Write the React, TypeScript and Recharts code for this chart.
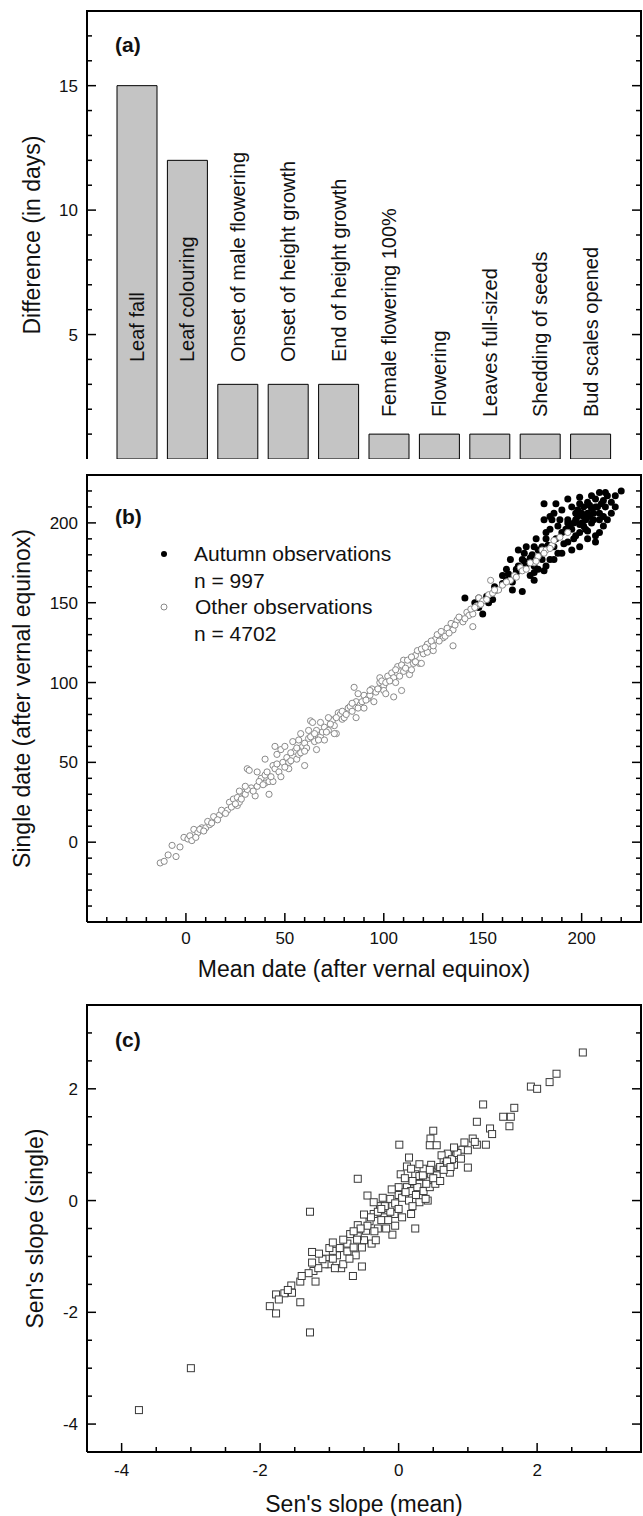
import {
  BarChart, Bar, ScatterChart, Scatter, XAxis, YAxis, LabelList, Legend,
} from 'recharts'

const FONT = '"Liberation Sans", Arial, Helvetica, sans-serif'
const INK = '#111'
const W = 643
const PLOT_L = 87
const PLOT_R = 641
const PLOT_TOP = 11

// (a) difference per phase
const phases = [
  'Leaf fall', 'Leaf colouring', 'Onset of male flowering', 'Onset of height growth',
  'End of height growth', 'Female flowering 100%', 'Flowering', 'Leaves full-sized',
  'Shedding of seeds', 'Bud scales opened',
]
const diffDays = [15, 12, 3, 3, 3, 1, 1, 1, 1, 1]
const diffTicks = [1, 2, 3, 4, 5, 6, 7, 8, 9, 10, 11, 12, 13, 14, 15, 16, 17]

// (b) single date vs mean date, [mean, single]
const dateTicks = [-40, -30, -20, -10, 0, 10, 20, 30, 40, 50, 60, 70, 80, 90, 100, 110, 120, 130, 140, 150, 160, 170, 180, 190, 200, 210, 220]
const autumnObs = [
  [220, 220], [209, 219], [205, 217], [181, 212], [187, 212], [181, 202], [185, 202], [189, 202], [193, 202],
  [184, 196], [177, 190], [182, 190], [180, 185], [174, 178], [172, 174], [167, 171], [165, 166], [162, 164],
  [170, 157], [165, 158], [176, 164], [176, 169], [141, 153], [150, 143], [153, 150], [148, 153], [181, 170],
  [213, 202], [211, 198], [207, 188], [209, 194], [203, 195], [199, 199], [197, 206], [201, 210], [205, 209],
  [209, 206], [215, 213], [213, 217], [197, 192], [193, 188], [188, 181], [184, 177], [180, 177], [176, 173],
  [186, 185], [190, 194], [195, 196], [199, 194], [201, 204], [195, 210], [190, 208], [186, 206], [193, 215],
  [199, 216], [203, 213], [207, 215], [182, 194], [178, 183], [171, 181], [170, 177], [168, 173], [160, 167],
  [157, 158], [155, 152], [152, 154], [165, 163], [174, 167], [178, 171], [182, 173], [186, 177], [190, 181],
  [195, 183], [199, 185], [203, 190], [207, 192], [211, 204], [215, 206], [217, 210], [184, 204], [188, 198],
  [193, 200], [197, 202], [201, 198], [205, 200], [209, 202], [176, 185], [172, 185], [168, 183], [164, 177],
  [162, 171], [196, 200], [198, 204], [200, 206], [202, 202], [204, 204], [206, 206], [200, 200], [194, 198],
  [192, 196], [198, 208], [204, 211], [210, 212], [212, 210], [208, 210], [206, 202], [202, 196], [196, 190],
  [191, 187], [187, 190], [183, 186], [179, 180], [175, 180], [171, 176], [167, 169], [163, 168], [160, 162],
  [156, 160], [148, 147], [146, 150], [199, 212], [203, 206], [207, 210], [211, 214], [212, 219], [217, 217],
]
const otherObs = [
  [-13, -13], [-11, -12], [-9, -8], [-7, -2], [-5, -9], [-3, -3], [-1, 3], [1, 2], [2, 4], [4, 8], [6, 6],
  [8, 9], [10, 9], [12, 11], [15, 15], [17, 17], [19, 19], [21, 20], [22, 25], [24, 27], [26, 23], [26, 28],
  [27, 25], [29, 31], [30, 30], [31, 46], [32, 45], [33, 34], [35, 29], [36, 35], [38, 40], [40, 37], [40, 42],
  [42, 30], [42, 38], [44, 38], [44, 48], [45, 46], [45, 60], [46, 55], [47, 44], [48, 41], [48, 58], [49, 50],
  [50, 60], [51, 53], [52, 46], [52, 50], [53, 51], [54, 63], [55, 57], [56, 52], [57, 55], [58, 68], [59, 60],
  [60, 48], [60, 62], [61, 59], [62, 65], [62, 70], [63, 76], [64, 65], [64, 75], [65, 63], [66, 58], [66, 70],
  [68, 66], [69, 69], [70, 64], [70, 72], [72, 70], [73, 77], [74, 76], [75, 73], [76, 68], [77, 81], [78, 80],
  [79, 77], [80, 78], [82, 84], [83, 85], [84, 82], [85, 97], [86, 78], [86, 88], [88, 86], [89, 88], [90, 92],
  [92, 90], [93, 92], [94, 96], [95, 88], [96, 94], [98, 100], [98, 103], [100, 98], [100, 95], [102, 104],
  [104, 106], [105, 91], [105, 103], [106, 100], [107, 110], [108, 104], [109, 95], [110, 107], [110, 114],
  [112, 114], [113, 105], [114, 108], [115, 112], [116, 117], [117, 120], [118, 112], [120, 118], [122, 119],
  [122, 124], [125, 120], [125, 123], [126, 127], [127, 130], [130, 128], [131, 129], [132, 134], [134, 137],
  [135, 123], [135, 133], [137, 139], [139, 140], [140, 138], [142, 144], [143, 142], [145, 135], [145, 143],
  [147, 148], [148, 153], [150, 151], [153, 155], [154, 164], [155, 156], [158, 158], [160, 161], [164, 164],
  [166, 167], [169, 172], [170, 170], [172, 171], [176, 175], [178, 179], [180, 183], [182, 183], [185, 186],
  [186, 189], [189, 191], [193, 194],
  [3, 1], [5, 3], [7, 8], [9, 7], [11, 13], [13, 12], [14, 16], [16, 14], [18, 20], [20, 18], [23, 22], [25, 24],
  [28, 27], [31, 33], [34, 32], [37, 38], [39, 36], [41, 44], [43, 41], [46, 49], [50, 47], [53, 56], [56, 59],
  [58, 56], [60, 57], [63, 66], [65, 68], [67, 64], [71, 69], [73, 74], [76, 78], [79, 82], [81, 80], [84, 87],
  [87, 84], [91, 89], [93, 95], [97, 96], [99, 101], [101, 100], [103, 101], [106, 108], [109, 111], [111, 109],
  [114, 116], [116, 113], [119, 121], [121, 122], [124, 126], [128, 126], [129, 132], [133, 131], [136, 136],
  [138, 141], [141, 140], [144, 146], [146, 147], [149, 149], [152, 152], [156, 158], [162, 163], [167, 166],
  [174, 175], [177, 176], [181, 181], [184, 184], [40, 52], [36, 44], [57, 64], [68, 75], [72, 78], [87, 93],
  [30, 35], [27, 32], [75, 68], [90, 84], [101, 93], [119, 112],
]

// (c) Sen's slope, [mean, single]
const slopeTicks = [-4, -3.5, -3, -2.5, -2, -1.5, -1, -0.5, 0, 0.5, 1, 1.5, 2, 2.5, 3]
const senSlopes = [
  [-3.75, -3.75], [-3.0, -3.0], [-1.28, -2.36], [-1.28, -0.2], [-0.59, 0.39], [0.01, 1.0], [2.66, 2.65],
  [2.28, 2.27], [2.18, 2.12], [1.91, 2.04], [2.0, 2.0], [1.22, 1.72], [1.67, 1.66], [1.51, 1.5], [1.62, 1.5],
  [1.6, 1.33], [1.13, 1.41], [1.32, 1.29], [1.35, 1.19], [1.26, 1.0], [1.13, 1.0], [1.0, 0.59], [0.5, 1.25],
  [0.46, 1.11], [0.45, 0.99], [0.55, 0.99], [0.24, -0.5], [-0.09, -0.61], [-0.53, -1.18], [-0.66, -1.35],
  [-0.83, -1.21], [-1.25, -0.92], [-1.2, -1.45], [-1.42, -1.82], [-1.42, -1.45], [-1.55, -1.52], [-1.54, -1.65],
  [-1.65, -1.66], [-1.77, -1.68], [-1.77, -2.02], [-1.86, -1.89], [-1.73, -1.77], [-1.23, -1.26], [-1.05, -1.04],
  [-1.0, -1.14], [-0.89, -0.98], [-0.74, -0.91], [-0.74, -0.77], [-0.8, -1.14], [-0.65, -0.84], [-0.59, -0.44],
  [-0.5, -0.71], [-0.47, -0.54], [-0.42, -0.37], [-0.45, 0.09], [-0.36, -0.24], [-0.3, -0.5], [-0.23, 0.05],
  [-0.21, -0.3], [-0.15, -0.13], [-0.09, -0.1], [0.0, 0.1], [0.0, 0.24], [0.09, 0.07], [0.03, 0.47], [0.12, 0.61],
  [0.15, 0.77], [0.21, 0.2], [0.24, 0.47], [0.3, 0.3], [0.36, 0.57], [0.42, 0.0], [0.42, 0.37], [0.47, 0.64],
  [0.53, 0.5], [0.59, 0.57], [0.65, 0.71], [0.71, 0.84], [0.74, 0.5], [0.8, 0.64], [0.83, 0.81], [0.92, 0.91],
  [0.95, 1.04], [1.07, 1.11], [0.3, -0.03], [0.18, -0.24], [-0.06, -0.24], [-0.12, 0.03], [-0.27, -0.1],
  [-0.36, -0.03], [-0.18, -0.5], [-0.39, -0.77], [-0.33, -0.71], [-0.59, -0.64], [-0.53, -0.84], [-0.62, -0.98],
  [-0.71, -1.04], [-0.95, -1.04], [-1.07, -1.14], [-0.92, -1.21], [-1.16, -1.21], [-1.25, -1.11], [0.12, 0.24],
  [0.18, 0.17], [0.27, 0.24], [0.36, 0.17], [0.45, 0.24], [0.53, 0.3], [0.3, 0.44], [0.18, 0.57], [0.09, 0.4],
  [0.77, 0.74], [0.68, 0.64], [0.47, 0.47], [0.39, 0.03], [0.62, 0.81], [-0.3, -0.2], [-0.25, -0.35],
  [-0.12, -0.2], [0.05, 0.05], [-0.05, -0.05], [0.2, 0.35], [0.6, 0.6], [0.85, 0.85], [-0.95, -0.9],
  [-0.85, -0.85], [-1.1, -1.05], [-0.45, -0.45], [-0.55, -0.5], [-0.15, -0.35], [0.35, 0.45],
  [-0.7, -0.6], [-0.6, -0.7], [-0.4, -0.3], [-0.2, -0.1], [0.1, 0.15], [0.25, 0.1], [0.4, 0.3], [0.55, 0.45],
  [0.7, 0.7], [0.9, 0.75], [-1.0, -0.85], [-0.8, -0.7], [-0.35, -0.55], [-0.25, -0.15], [0.0, -0.15],
  [0.15, 0.0], [0.5, 0.4], [0.65, 0.55], [0.75, 0.6], [1.0, 0.9], [1.1, 1.05], [-1.3, -1.3], [-1.4, -1.35],
  [-1.6, -1.6], [-0.1, 0.2], [0.05, -0.3], [-0.5, -0.25], [-0.65, -0.55], [0.3, 0.65], [0.45, 0.55],
  [0.6, 0.35], [0.8, 0.95], [0.2, -0.1], [-0.05, -0.45], [-0.95, -0.75], [-1.15, -0.95],
]

const toXY = (pts: number[][]) => pts.map(([x, y]) => ({ x, y }))

function YTick(props: any) {
  const { x, y, payload, step, labelDx = 9 } = props
  const v = payload.value
  const major = Math.abs(v % step) < 1e-9
  const len = major ? 9 : 5
  return (
    <g>
      <line x1={x} x2={x + len} y1={y} y2={y} stroke="#000" strokeWidth={1.5} />
      <line x1={PLOT_R} x2={PLOT_R - len} y1={y} y2={y} stroke="#000" strokeWidth={1.5} />
      {major && (
        <text x={x - labelDx} y={y + 6} textAnchor="end" fontSize={17} fontFamily={FONT} fill={INK}>{v}</text>
      )}
    </g>
  )
}

function XTick(props: any) {
  const { x, y, payload, step, labelDy = 22 } = props
  const v = payload.value
  const major = Math.abs(v % step) < 1e-9
  const len = major ? 9 : 5
  return (
    <g>
      <line x1={x} x2={x} y1={y} y2={y - len} stroke="#000" strokeWidth={1.5} />
      {major && (
        <text x={x} y={y + labelDy} textAnchor="middle" fontSize={17} fontFamily={FONT} fill={INK}>{v}</text>
      )}
    </g>
  )
}

// y title, panel letter, and the top/right sides of the box
function YTitle({ text, x, plotH, letter, letterY }: { text: string; x: number; plotH: number; letter: string; letterY: number }) {
  const cy = PLOT_TOP + plotH / 2
  const bottom = PLOT_TOP + plotH
  return (
    <g>
      <path d={`M${PLOT_L - 1},${PLOT_TOP}H${PLOT_R}V${bottom + 1}`} fill="none" stroke="#000" strokeWidth={2} />
      <text x={x} y={cy} transform={`rotate(-90 ${x} ${cy})`} textAnchor="middle" dominantBaseline="central"
        fontSize={23} fontFamily={FONT} fill={INK}>{text}</text>
      <text x={115} y={letterY} fontSize={21} fontWeight="bold" fontFamily={FONT} fill={INK}>{letter}</text>
    </g>
  )
}

function XTitle({ text, y }: { text: string; y: number }) {
  return (
    <text x={(PLOT_L + PLOT_R) / 2} y={y} textAnchor="middle" fontSize={23} fontFamily={FONT} fill={INK}>{text}</text>
  )
}

function PhaseLabel(props: any) {
  const { x, y, width, height, value } = props
  const cx = x + width / 2
  const bottom = y + height
  const start = height > 50 ? bottom - 97 : y - 17
  return (
    <text x={cx} y={start} transform={`rotate(-90 ${cx} ${start})`} textAnchor="start" dominantBaseline="central"
      fontSize={20} fontFamily={FONT} fill={INK}>{value}</text>
  )
}

const frameLine = { stroke: '#000', strokeWidth: 2 }

function PanelA() {
  const data = phases.map((name, i) => ({ name, value: diffDays[i] }))
  return (
    <BarChart width={W} height={470} data={data} margin={{ top: PLOT_TOP, right: W - PLOT_R, bottom: 11, left: 0 }}>
      <XAxis dataKey="name" tick={false} tickLine={false} height={0} axisLine={frameLine} padding={{ left: 25, right: 25 }} />
      <YAxis type="number" domain={[0, 18]} allowDataOverflow ticks={diffTicks} interval={0} width={PLOT_L}
        tickSize={0} tickMargin={0} axisLine={frameLine} tickLine={false}
        tick={(p: any) => <YTick {...p} step={5} />}
        label={() => <YTitle text="Difference (in days)" x={32} plotH={448} letter="(a)" letterY={52} />} />
      <Bar dataKey="value" fill="#c4c4c4" stroke="#000" strokeWidth={1} barSize={40} isAnimationActive={false}>
        <LabelList dataKey="name" content={<PhaseLabel />} />
      </Bar>
    </BarChart>
  )
}

function ObsLegend() {
  const row = { position: 'absolute' as const, left: 44, whiteSpace: 'nowrap' as const }
  return (
    <div style={{ position: 'relative', width: 300, height: 106, fontFamily: FONT, fontSize: 21, lineHeight: '26.5px', color: INK }}>
      <svg width={10} height={10} style={{ position: 'absolute', left: 9, top: 8 }}>
        <circle cx={5} cy={5} r={3} fill="#000" />
      </svg>
      <div style={{ ...row, top: 0 }}>Autumn observations</div>
      <div style={{ ...row, top: 26.5 }}>n = 997</div>
      <svg width={10} height={10} style={{ position: 'absolute', left: 9, top: 61 }}>
        <circle cx={5} cy={5} r={3} fill="#fff" stroke="#8a8a8a" strokeWidth={1} />
      </svg>
      <div style={{ ...row, left: 45, top: 53 }}>Other observations</div>
      <div style={{ ...row, top: 79.5 }}>n = 4702</div>
    </div>
  )
}

function PanelB() {
  return (
    <ScatterChart width={W} height={522} margin={{ top: PLOT_TOP, right: W - PLOT_R, bottom: 0, left: 0 }}>
      <XAxis dataKey="x" type="number" domain={[-50, 230]} allowDataOverflow ticks={dateTicks} interval={0}
        height={64} tickSize={0} tickMargin={0} axisLine={frameLine} tickLine={false}
        tick={(p: any) => <XTick {...p} step={50} labelDy={22} />}
        label={() => <XTitle text="Mean date (after vernal equinox)" y={513} />} />
      <YAxis dataKey="y" type="number" domain={[-50, 230]} allowDataOverflow ticks={dateTicks} interval={0} width={PLOT_L}
        tickSize={0} tickMargin={0} axisLine={frameLine} tickLine={false}
        tick={(p: any) => <YTick {...p} step={50} />}
        label={() => <YTitle text="Single date (after vernal equinox)" x={22} plotH={447} letter="(b)" letterY={60} />} />
      <Scatter name="Autumn observations" data={toXY(autumnObs)} isAnimationActive={false}
        shape={(p: any) => <circle cx={p.cx} cy={p.cy} r={3.5} fill="#000" />} />
      <Scatter name="Other observations" data={toXY(otherObs)} isAnimationActive={false}
        shape={(p: any) => <circle cx={p.cx} cy={p.cy} r={3.1} fill="#fff" stroke="#8a8a8a" strokeWidth={1} />} />
      <Legend layout="horizontal" verticalAlign="middle" align="center" content={<ObsLegend />}
        wrapperStyle={{ left: 150, top: 77, width: 300 }} />
    </ScatterChart>
  )
}

function PanelC() {
  return (
    <ScatterChart width={W} height={522} margin={{ top: PLOT_TOP, right: W - PLOT_R, bottom: 0, left: 0 }}>
      <XAxis dataKey="x" type="number" domain={[-4.5, 3.5]} allowDataOverflow ticks={slopeTicks} interval={0}
        height={64} tickSize={0} tickMargin={0} axisLine={frameLine} tickLine={false}
        tick={(p: any) => <XTick {...p} step={2} labelDy={24} />}
        label={() => <XTitle text="Sen's slope (mean)" y={518} />} />
      <YAxis dataKey="y" type="number" domain={[-4.5, 3.5]} allowDataOverflow ticks={slopeTicks} interval={0} width={PLOT_L}
        tickSize={0} tickMargin={0} axisLine={frameLine} tickLine={false}
        tick={(p: any) => <YTick {...p} step={2} />}
        label={() => <YTitle text="Sen's slope (single)" x={35} plotH={447} letter="(c)" letterY={53} />} />
      <Scatter data={toXY(senSlopes)} isAnimationActive={false}
        shape={(p: any) => <rect x={p.cx - 3.5} y={p.cy - 3.5} width={7} height={7} fill="#fff" stroke="#3a3a3a" strokeWidth={1} />} />
    </ScatterChart>
  )
}

export default function App() {
  return (
    <div style={{ position: 'absolute', left: 0, top: 0, width: W, height: 1516, background: '#fff', fontFamily: FONT }}>
      <div style={{ position: 'absolute', left: 0, top: 0 }}><PanelA /></div>
      <div style={{ position: 'absolute', left: 0, top: 464 }}><PanelB /></div>
      <div style={{ position: 'absolute', left: 0, top: 994 }}><PanelC /></div>
    </div>
  )
}
